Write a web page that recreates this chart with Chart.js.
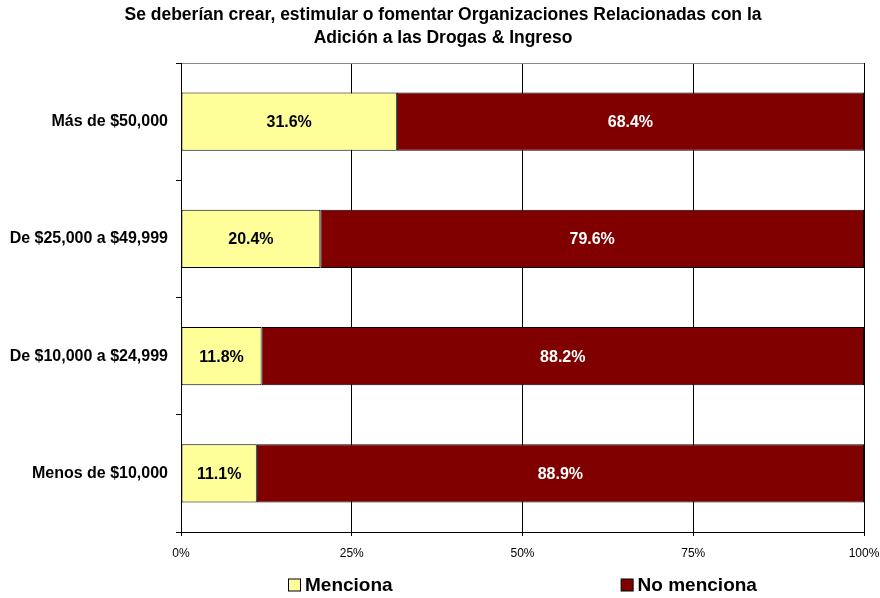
<!DOCTYPE html>
<html>
<head>
<meta charset="utf-8">
<script src="https://cdn.jsdelivr.net/npm/chart.js@4/dist/chart.umd.min.js"></script>
<style>
  html, body { margin: 0; padding: 0; background: #fff; }
  #wrap { width: 880px; height: 598px; }
</style>
</head>
<body>
<div id="wrap"><canvas id="chart"></canvas></div>
<script>
const categories = ['Más de $50,000', 'De $25,000 a $49,999', 'De $10,000 a $24,999', 'Menos de $10,000'];
const menciona = [31.6, 20.4, 11.8, 11.1];
const noMenciona = [68.4, 79.6, 88.2, 88.9];
const xTicks = ['0%', '25%', '50%', '75%', '100%'];

const FONT = "'Liberation Sans', Arial, sans-serif";

// etiquetas de porcentaje centradas en cada barra
const barLabels = {
  id: 'barLabels',
  afterDatasetsDraw(chart) {
    const { ctx } = chart;
    ctx.save();
    ctx.font = `bold 16px ${FONT}`;
    ctx.textAlign = 'center';
    ctx.textBaseline = 'middle';
    chart.data.datasets.forEach((ds, di) => {
      chart.getDatasetMeta(di).data.forEach((bar, i) => {
        const { x, base, y } = bar.getProps(['x', 'base', 'y'], true);
        ctx.fillStyle = di === 0 ? '#000' : '#fff';
        ctx.fillText(ds.data[i].toFixed(1) + '%', (x + base) / 2, y + 1);
      });
    });
    ctx.restore();
  },
};

// leyenda dibujada a mano, centrada bajo el área del gráfico
const bottomLegend = {
  id: 'bottomLegend',
  afterDraw(chart) {
    const { ctx, chartArea } = chart;
    const box = 13, gap = 4, spacing = 228;
    ctx.save();
    ctx.font = `bold 19px ${FONT}`;
    ctx.textBaseline = 'middle';
    const items = chart.data.datasets.map((ds) => ({
      label: ds.label,
      color: ds.backgroundColor,
      w: box + gap + ctx.measureText(ds.label).width,
    }));
    const total = items.reduce((s, it) => s + it.w, 0) + spacing * (items.length - 1);
    let x = Math.round((chartArea.left + chartArea.right) / 2 - total / 2);
    const y = 585;
    items.forEach((it) => {
      ctx.fillStyle = it.color;
      ctx.fillRect(x + 0.5, y - box / 2 + 0.5, box - 1, box - 1);
      ctx.strokeStyle = '#000';
      ctx.lineWidth = 1;
      ctx.strokeRect(x + 0.5, y - box / 2 + 0.5, box - 1, box - 1);
      ctx.fillStyle = '#000';
      ctx.fillText(it.label, x + box + gap, y + 1);
      x += it.w + spacing;
    });
    ctx.restore();
  },
};

new Chart(document.getElementById('chart'), {
  type: 'bar',
  data: {
    labels: categories,
    datasets: [
      {
        label: 'Menciona',
        data: menciona,
        backgroundColor: '#ffff99',
        borderColor: '#000',
        borderWidth: 1,
        borderSkipped: false,
        categoryPercentage: 1,
        barPercentage: 0.495,
      },
      {
        label: 'No menciona',
        data: noMenciona,
        backgroundColor: '#800000',
        borderColor: '#000',
        borderWidth: 1,
        borderSkipped: false,
        categoryPercentage: 1,
        barPercentage: 0.495,
      },
    ],
  },
  options: {
    indexAxis: 'y',
    responsive: true,
    maintainAspectRatio: false,
    animation: false,
    layout: { padding: { left: 6, right: 0, top: 0, bottom: 36 } },
    plugins: {
      title: {
        display: true,
        text: ['Se deberían crear, estimular o fomentar Organizaciones Relacionadas con la', 'Adición a las Drogas & Ingreso'],
        color: '#000',
        font: { family: FONT, size: 17.5, weight: 'bold', lineHeight: 23 / 17.5 },
        padding: { top: 4, bottom: 13 },
      },
      legend: { display: false },
      tooltip: { enabled: false },
    },
    scales: {
      x: {
        stacked: true,
        min: 0,
        max: 100,
        border: { color: '#000', width: 1 },
        grid: { color: '#000', tickColor: '#000', tickLength: 4 },
        ticks: {
          stepSize: 25,
          color: '#000',
          font: { family: FONT, size: 12 },
          padding: 10,
          callback: (v, i) => xTicks[i],
        },
        afterFit: (s) => { s.height = 30; s.paddingLeft = 0; s.paddingRight = 16; },
      },
      y: {
        stacked: true,
        border: { color: '#000', width: 1 },
        grid: {
          offset: true,
          color: (c) => (c.index === 0 ? '#888' : 'transparent'),
          tickColor: '#000',
          tickLength: 5,
        },
        ticks: {
          color: '#000',
          font: { family: FONT, size: 16, weight: 'bold' },
          padding: 8,
        },
        afterFit: (s) => { s.width = 175; },
      },
    },
  },
  plugins: [barLabels, bottomLegend],
});
</script>
</body>
</html>
